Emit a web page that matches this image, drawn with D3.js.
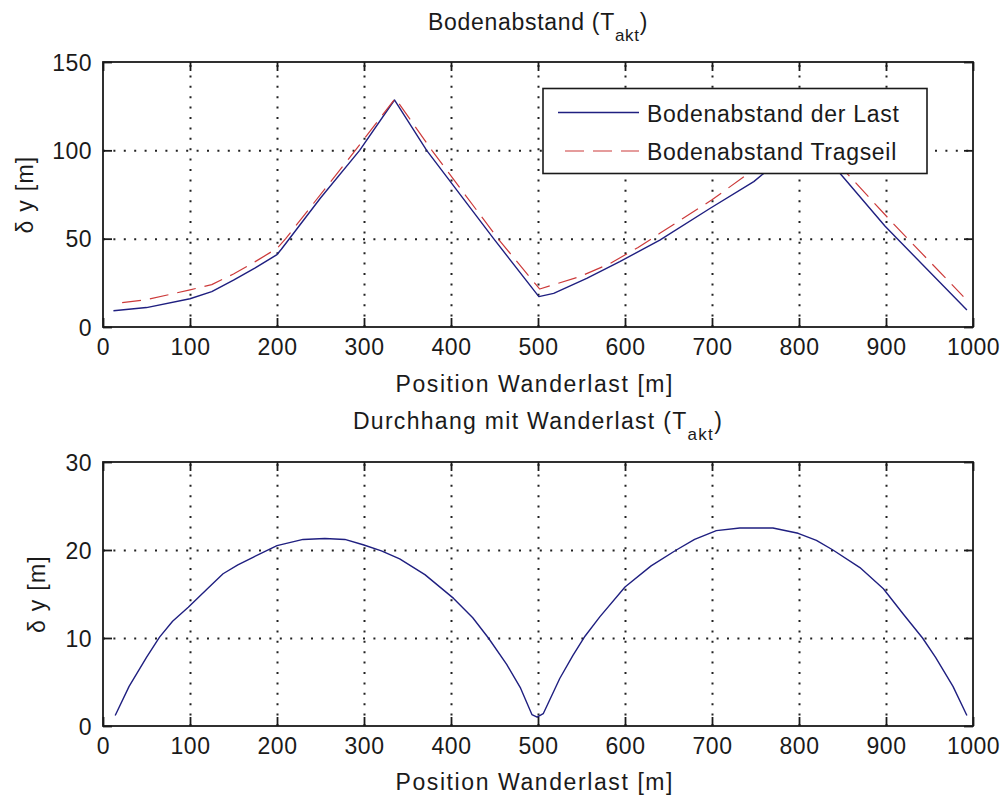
<!DOCTYPE html>
<html>
<head>
<meta charset="utf-8">
<script src="https://cdn.jsdelivr.net/npm/d3@7"></script>
<style>
  body { margin: 0; background: #fff; }
  svg { display: block; }
  text { font-family: "Liberation Sans", Arial, sans-serif; fill: #1a1a1a; }
</style>
</head>
<body>
<svg id="fig" width="1005" height="797"></svg>
<script>
// Tick values
const positionTicks = [0, 100, 200, 300, 400, 500, 600, 700, 800, 900, 1000];
const clearanceTicks = [0, 50, 100, 150];
const sagTicks = [0, 10, 20, 30];

// Ground clearance of the load [m] along the load position [m]
const loadPos   = [12, 50, 100, 125, 150, 175, 200, 205, 250, 295, 335, 372, 449, 501, 518, 556, 594, 640, 698, 748, 809, 847, 899, 993];
const loadClear = [9.2, 11, 16, 20, 26.5, 33.5, 41, 44, 73, 100, 128.5, 100, 50, 17.2, 19, 27.5, 37, 49.2, 67.2, 82.3, 107, 87, 57, 9.6];

// Ground clearance of the carrying rope [m]
const ropePos   = [22, 50, 100, 125, 150, 175, 200, 210, 290, 336, 378, 454, 498, 502, 548, 583, 615, 640, 700, 742, 809, 855, 908, 989];
const ropeClear = [13.8, 15.5, 21, 24, 30, 37, 44.5, 50, 100, 129.4, 100, 50, 23.8, 21.5, 28.5, 36, 45, 53, 72, 87, 111, 87, 58.7, 17.2];

// Sag with travelling load [m]
const sagPos = [14, 30, 50, 65, 80, 98, 120, 138, 155, 173, 200, 230, 255, 278, 299, 320, 341, 370, 403, 425, 443, 464, 480, 493, 499,
                506, 525, 540, 554, 571, 600, 630, 659, 680, 705, 732, 770, 799, 820, 839, 870, 897, 920, 942, 957, 977, 993];
const sagVal = [1.2, 4.5, 7.8, 10.1, 11.9, 13.5, 15.6, 17.3, 18.3, 19.2, 20.5, 21.2, 21.3, 21.2, 20.6, 19.9, 19, 17.2, 14.5, 12.3, 10, 7, 4.3, 1.3, 1.0,
                1.4, 5.4, 8, 10.2, 12.4, 15.8, 18.2, 20, 21.2, 22.2, 22.5, 22.5, 21.9, 21.1, 20, 18, 15.6, 12.7, 10, 7.8, 4.5, 1.2];

const legendLabels = ["Bodenabstand der Last", "Bodenabstand Tragseil"];

const BLUE = "#1f1f80";
const RED = "#cc3a3a";
const FONT = "Liberation Sans, Arial, sans-serif";
const FS = 23;

const svg = d3.select("#fig");

function drawPanel(cfg) {
  const { left, right, top, bottom } = cfg;
  const w = right - left, h = bottom - top;
  const g = svg.append("g").attr("transform", `translate(${left},${top})`);

  const x = d3.scaleLinear().domain([0, 1000]).range([0, w]);
  const y = d3.scaleLinear().domain(cfg.yDomain).range([h, 0]);

  // dotted grid
  const gx = g.append("g").attr("transform", `translate(0,${h})`)
    .call(d3.axisBottom(x).tickValues(positionTicks.slice(1, -1)).tickSize(-h).tickFormat(""));
  const gy = g.append("g")
    .call(d3.axisLeft(y).tickValues(cfg.yTicks.slice(1, -1)).tickSize(-w).tickFormat(""));
  [gx, gy].forEach(a => {
    a.select(".domain").remove();
    a.selectAll("line").attr("stroke", "#222").attr("stroke-width", 2)
      .attr("stroke-dasharray", "2,8.4");
  });

  // series
  cfg.series.forEach(s => {
    const pts = s.xs.map((v, i) => [v, s.ys[i]]);
    g.append("path").datum(pts)
      .attr("fill", "none")
      .attr("stroke", s.color)
      .attr("stroke-width", s.width)
      .attr("stroke-dasharray", s.dash || null)
      .attr("stroke-linejoin", "round")
      .attr("d", d3.line().x(d => x(d[0])).y(d => y(d[1])));
  });

  // axes with inward ticks
  const styleAxis = a => {
    a.attr("font-size", FS).attr("font-family", FONT).attr("color", "#1a1a1a");
    a.select(".domain").remove();
    a.selectAll("line").attr("stroke", "#1a1a1a").attr("stroke-width", 1.8);
    a.selectAll("text").attr("letter-spacing", 0.5);
  };
  const fmt = d3.format("d");
  const ab = g.append("g").attr("transform", `translate(0,${h})`)
    .call(d3.axisBottom(x).tickValues(positionTicks).tickFormat(fmt).tickSize(-9).tickPadding(12));
  styleAxis(ab);
  const at = g.append("g")
    .call(d3.axisTop(x).tickValues(positionTicks).tickSize(-9).tickFormat(""));
  styleAxis(at);
  const al = g.append("g")
    .call(d3.axisLeft(y).tickValues(cfg.yTicks).tickFormat(fmt).tickSize(-9).tickPadding(11));
  styleAxis(al);
  al.selectAll("text").attr("dy", "0.36em");
  const ar = g.append("g").attr("transform", `translate(${w},0)`)
    .call(d3.axisRight(y).tickValues(cfg.yTicks).tickSize(-9).tickFormat(""));
  styleAxis(ar);

  // frame
  g.append("rect").attr("width", w).attr("height", h)
    .attr("fill", "none").attr("stroke", "#1a1a1a").attr("stroke-width", 1.8);

  // title with subscript
  const t = svg.append("text")
    .attr("x", (left + right) / 2).attr("y", cfg.titleY)
    .attr("text-anchor", "middle").attr("font-size", FS)
    .attr("letter-spacing", cfg.titleSpacing);
  t.append("tspan").text(cfg.title + " (T");
  t.append("tspan").attr("dy", 11).attr("font-size", 17).text("akt");
  t.append("tspan").attr("dy", -11).text(")");

  // x label
  svg.append("text")
    .attr("x", 534).attr("y", cfg.xLabelY)
    .attr("text-anchor", "middle").attr("font-size", FS)
    .attr("textLength", 277).attr("lengthAdjust", "spacing")
    .text("Position Wanderlast [m]");

  // y label
  svg.append("text")
    .attr("transform", `translate(${cfg.yLabelX},${(top + bottom) / 2}) rotate(-90)`)
    .attr("text-anchor", "middle").attr("font-size", FS)
    .attr("letter-spacing", 1.3)
    .text("δ y [m]");

  return { g, x, y };
}

// upper panel: ground clearance
drawPanel({
  left: 103, right: 973, top: 62, bottom: 327,
  yDomain: [0, 150], yTicks: clearanceTicks,
  title: "Bodenabstand", titleY: 30, titleSpacing: 0.7,
  xLabelY: 392, yLabelX: 33,
  series: [
    { xs: loadPos, ys: loadClear, color: BLUE, width: 1.4 },
    { xs: ropePos, ys: ropeClear, color: RED, width: 1.2, dash: "19,9" }
  ]
});

// legend
const lg = svg.append("g");
lg.append("rect").attr("x", 543).attr("y", 88.5).attr("width", 384).attr("height", 85)
  .attr("fill", "#fff").attr("stroke", "#1a1a1a").attr("stroke-width", 1.6);
const legendStyles = [
  { color: BLUE, width: 1.4, dash: null, x1: 558, y: 112.5, ty: 121.7 },
  { color: RED, width: 1.2, dash: "19,9", x1: 565, y: 151, ty: 160 }
];
legendLabels.forEach((lab, i) => {
  const s = legendStyles[i];
  lg.append("line").attr("x1", s.x1).attr("x2", 639).attr("y1", s.y).attr("y2", s.y)
    .attr("stroke", s.color).attr("stroke-width", s.width)
    .attr("stroke-dasharray", s.dash);
  lg.append("text").attr("x", 647).attr("y", s.ty).attr("font-size", FS)
    .attr("letter-spacing", 0.7).text(lab);
});

// lower panel: sag with travelling load
drawPanel({
  left: 103, right: 973, top: 462, bottom: 726,
  yDomain: [0, 30], yTicks: sagTicks,
  title: "Durchhang mit Wanderlast", titleY: 429, titleSpacing: 1.3,
  xLabelY: 790, yLabelX: 45,
  series: [
    { xs: sagPos, ys: sagVal, color: BLUE, width: 1.4 }
  ]
});
</script>
</body>
</html>
